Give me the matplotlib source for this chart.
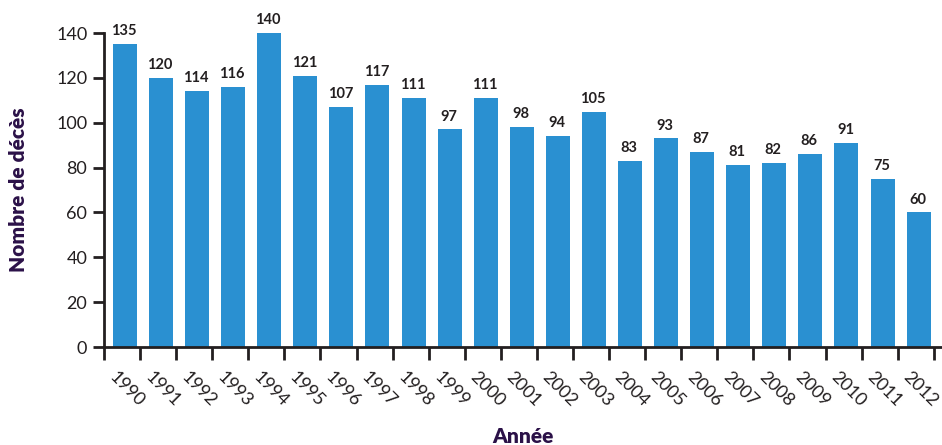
import matplotlib
matplotlib.use("Agg")
import matplotlib.pyplot as plt
import numpy as np

years = [str(y) for y in range(1990, 2013)]
deaths = [135, 120, 114, 116, 140, 121, 107, 117, 111, 97, 111, 98, 94, 105,
          83, 93, 87, 81, 82, 86, 91, 75, 60]
yticks = [0, 20, 40, 60, 80, 100, 120, 140]

plt.rcParams['font.family'] = ['Lato', 'DejaVu Sans']

fig = plt.figure(figsize=(9.42, 4.45), dpi=100)
ax = fig.add_axes([104/942, 1-347/445, (941-104)/942, (347-33)/445])

x = np.arange(len(years)) + 0.08
ax.bar(x, deaths, width=0.665, color='#2a90d1', zorder=2)
for xi, v in zip(x, deaths):
    ax.text(xi - 0.03, v + 2.6, str(v), ha='center', va='bottom', fontsize=10.5,
            fontweight='bold', color='#231f20')

ax.set_xlim(-0.5, 22.7)
ax.set_ylim(0, 140)
ax.set_yticks(yticks)
ax.set_yticklabels([str(t) for t in yticks], fontsize=13, color='#231f20')
ax.set_xticks(x + 0.05)
ax.set_xticklabels(years, rotation=-45, ha='center', va='top', fontsize=13,
                   color='#231f20')
ax.tick_params(axis='x', which='major', length=0, pad=16)
ax.set_xticks(np.arange(-0.5, 23, 1), minor=True)
ax.tick_params(axis='x', which='minor', length=9, width=2, color='#231f20')
ax.tick_params(axis='y', length=8, width=2, color='#231f20', pad=4)

for s in ['top', 'right']:
    ax.spines[s].set_visible(False)
for s in ['left', 'bottom']:
    ax.spines[s].set_linewidth(2)
    ax.spines[s].set_color('#231f20')

ax.set_ylabel('Nombre de décès', fontsize=15, fontweight='heavy',
              color='#2b1148', labelpad=20)
ax.set_xlabel('Année', fontsize=15, fontweight='heavy', color='#2b1148',
              labelpad=12)

fig.savefig('out.png', dpi=100)
